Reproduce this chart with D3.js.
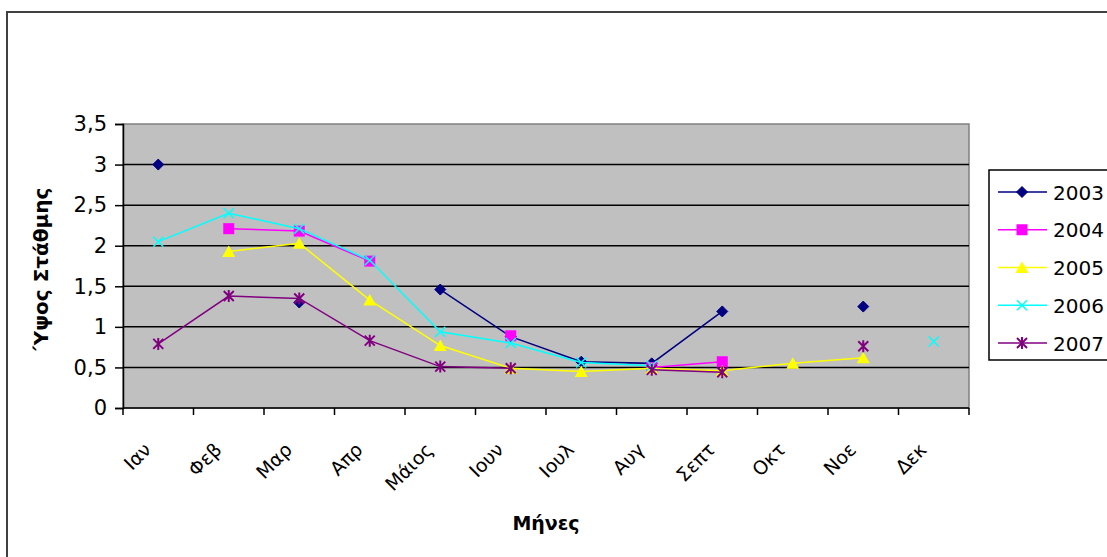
<!doctype html>
<html lang="el">
<head>
<meta charset="utf-8">
<title>Ύψος Στάθμης</title>
<script src="https://d3js.org/d3.v7.min.js"></script>
<style>
  body { margin: 0; background: #fff; }
  svg text { font-family: "DejaVu Sans", Verdana, sans-serif; fill: #000; }
</style>
</head>
<body>
<div id="chart"></div>
<script>
var months = ["Ιαν", "Φεβ", "Μαρ", "Απρ", "Μάιος", "Ιουν", "Ιουλ", "Αυγ", "Σεπτ", "Οκτ", "Νοε", "Δεκ"];
var years = ["2003", "2004", "2005", "2006", "2007"];
var v2003 = [3.0, null, 1.30, null, 1.46, 0.88, 0.57, 0.55, 1.19, null, 1.25, null];
var v2004 = [null, 2.21, 2.18, 1.81, null, 0.89, null, 0.50, 0.57, null, null, null];
var v2005 = [null, 1.93, 2.03, 1.33, 0.77, 0.49, 0.45, 0.49, 0.46, 0.55, 0.62, null];
var v2006 = [2.05, 2.40, 2.21, 1.82, 0.94, 0.80, 0.56, 0.52, null, null, null, 0.82];
var v2007 = [0.79, 1.38, 1.35, 0.83, 0.51, 0.49, null, 0.47, 0.44, null, 0.76, null];
var yTicks = [0, 0.5, 1, 1.5, 2, 2.5, 3, 3.5];

var series = [
  { name: years[0], values: v2003, color: "#000080", marker: "diamond" },
  { name: years[1], values: v2004, color: "#ff00ff", marker: "square" },
  { name: years[2], values: v2005, color: "#ffff00", marker: "triangle" },
  { name: years[3], values: v2006, color: "#00ffff", marker: "cross" },
  { name: years[4], values: v2007, color: "#800080", marker: "star" }
];

var width = 1107, height = 557;
var plot = { left: 123, top: 124, right: 969, bottom: 408 };

var svg = d3.select("#chart").append("svg")
  .attr("width", width)
  .attr("height", height);

// outer chart frame (only top/left visible)
svg.append("rect")
  .attr("x", 7).attr("y", 12)
  .attr("width", 1200).attr("height", 700)
  .attr("fill", "#fff")
  .attr("stroke", "#404040")
  .attr("stroke-width", 2);

var x = d3.scaleBand().domain(months).range([plot.left, plot.right]);
var y = d3.scaleLinear().domain([0, 3.5]).range([plot.bottom, plot.top]);

// plot area
svg.append("rect")
  .attr("x", plot.left).attr("y", plot.top)
  .attr("width", plot.right - plot.left)
  .attr("height", plot.bottom - plot.top)
  .attr("fill", "#c0c0c0")
  .attr("stroke", "#808080")
  .attr("stroke-width", 1.5);

// gridlines
svg.append("g")
  .selectAll("line")
  .data(yTicks.filter(function(t) { return t > 0 && t < 3.5; }))
  .enter().append("line")
  .attr("x1", plot.left).attr("x2", plot.right)
  .attr("y1", function(d) { return y(d); })
  .attr("y2", function(d) { return y(d); })
  .attr("stroke", "#000")
  .attr("stroke-width", 1.5);

// y axis
var yAxis = svg.append("g")
  .attr("transform", "translate(" + plot.left + ",0)")
  .call(d3.axisLeft(y).tickValues(yTicks).tickSize(8).tickPadding(8)
    .tickFormat(function(d) { return String(d).replace(".", ","); }));
yAxis.select(".domain").attr("stroke", "#000").attr("stroke-width", 1.5);
yAxis.selectAll(".tick line").attr("stroke", "#000").attr("stroke-width", 1.5);
yAxis.selectAll(".tick text")
  .attr("font-size", 21)
  .attr("font-family", "DejaVu Sans")
  .attr("fill", "#000");

// x axis: ticks between categories
var xb = svg.append("g");
xb.append("line")
  .attr("x1", plot.left).attr("x2", plot.right)
  .attr("y1", plot.bottom).attr("y2", plot.bottom)
  .attr("stroke", "#000").attr("stroke-width", 1.5);
xb.selectAll(".xt")
  .data(months.map(function(m) { return x(m); }).concat([x.range()[1]]))
  .enter().append("line")
  .attr("x1", function(d) { return d; }).attr("x2", function(d) { return d; })
  .attr("y1", plot.bottom).attr("y2", plot.bottom + 7)
  .attr("stroke", "#000").attr("stroke-width", 1.5);
xb.selectAll(".xl")
  .data(months)
  .enter().append("text")
  .attr("text-anchor", "end")
  .attr("font-size", 19)
  .attr("transform", function(d) {
    return "translate(" + (x(d) + x.bandwidth() / 2 - 6) + "," + 451 + ") rotate(-45)";
  })
  .text(function(d) { return d; });

// axis titles
svg.append("text")
  .attr("text-anchor", "middle")
  .attr("font-size", 20)
  .attr("font-weight", "bold")
  .attr("transform", "translate(48," + 269 + ") rotate(-90)")
  .text("Ύψος Στάθμης");

svg.append("text")
  .attr("text-anchor", "middle")
  .attr("font-size", 19)
  .attr("font-weight", "bold")
  .attr("x", (plot.left + plot.right) / 2)
  .attr("y", 530)
  .text("Μήνες");

// markers
function drawMarker(g, type, color) {
  if (type === "diamond") {
    g.append("path").attr("d", "M0,-5.5L5.5,0L0,5.5L-5.5,0Z").attr("fill", color).attr("stroke", color);
  } else if (type === "square") {
    g.append("rect").attr("x", -5.5).attr("y", -5.5).attr("width", 11).attr("height", 11).attr("fill", color);
  } else if (type === "triangle") {
    g.append("path").attr("d", "M0,-6L6.5,5.5L-6.5,5.5Z").attr("fill", color);
  } else if (type === "cross") {
    g.append("path").attr("d", "M-5,-5L5,5M-5,5L5,-5").attr("stroke", color).attr("stroke-width", 1.5).attr("fill", "none");
  } else {
    g.append("path").attr("d", "M-5,-5L5,5M-5,5L5,-5M0,-6L0,6").attr("stroke", color).attr("stroke-width", 2).attr("fill", "none");
  }
}

var line = d3.line()
  .defined(function(d) { return d != null; })
  .x(function(d, i) { return x(months[i]) + x.bandwidth() / 2; })
  .y(function(d) { return y(d); });

series.forEach(function(s) {
  var g = svg.append("g");
  g.append("path")
    .attr("d", line(s.values))
    .attr("fill", "none")
    .attr("stroke", s.color)
    .attr("stroke-width", 1.5);
  s.values.forEach(function(v, i) {
    if (v == null) return;
    var m = g.append("g")
      .attr("transform", "translate(" + (x(months[i]) + x.bandwidth() / 2) + "," + y(v) + ")");
    drawMarker(m, s.marker, s.color);
  });
});

// legend
var lg = svg.append("g");
lg.append("rect")
  .attr("x", 989).attr("y", 170)
  .attr("width", 140).attr("height", 190)
  .attr("fill", "#fff")
  .attr("stroke", "#000")
  .attr("stroke-width", 1.5);
var ly = d3.scalePoint().domain(years).range([192, 343]);
series.forEach(function(s) {
  var yy = ly(s.name);
  lg.append("line")
    .attr("x1", 998).attr("x2", 1047)
    .attr("y1", yy).attr("y2", yy)
    .attr("stroke", s.color).attr("stroke-width", 1.5);
  var m = lg.append("g").attr("transform", "translate(1022," + yy + ")");
  drawMarker(m, s.marker, s.color);
  lg.append("text")
    .attr("x", 1053).attr("y", yy + 7.5)
    .attr("font-size", 20)
    .text(s.name);
});
</script>
</body>
</html>
